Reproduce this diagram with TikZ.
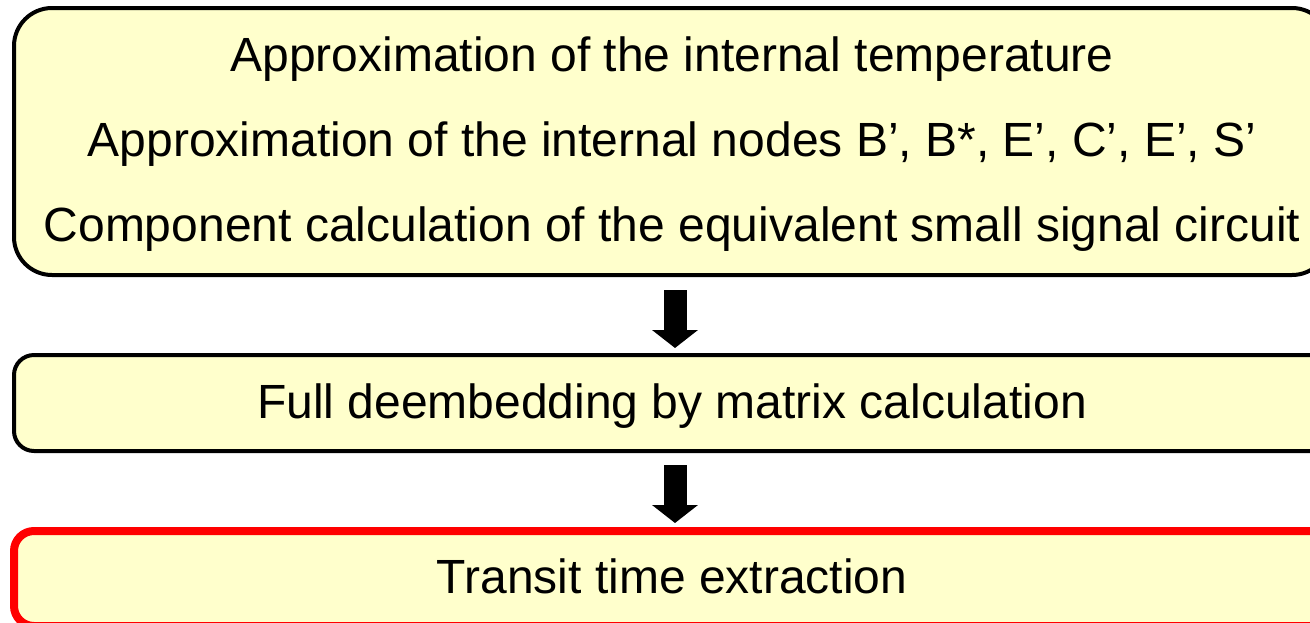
\documentclass[tikz,border=0pt]{standalone}
\usepackage{fontspec}
\setmainfont{Liberation Sans}
\usepackage{xcolor}
\usetikzlibrary{arrows.meta,positioning}
\definecolor{paleyellow}{HTML}{FFFFCC}
\definecolor{alertred}{HTML}{FF0000}
\tikzset{
    every picture/.style={line join=round},
    stagebox/.style={draw=black,fill=paleyellow,line width=2pt,rounded corners=10pt,
      minimum width=658pt,minimum height=48pt,inner sep=0pt,outer sep=0pt,
      font=\fontsize{24}{42.5}\selectfont,align=center},
    oneline/.style={text height=21pt,text depth=6pt},
    resultbox/.style={stagebox,draw=alertred,line width=4pt},
    blockarrow/.style={-{Triangle[length=9pt,width=22.5pt]},draw=black,fill=black,
      line width=11.5pt,line cap=butt}
}
\begin{document}
\begin{tikzpicture}[x=0.5pt,y=-0.5pt]
  \useasboundingbox (0,0) rectangle (1310,622);
  \node[stagebox,rounded corners=19pt,minimum height=133.5pt] (approx) at (672,141.5) {
    \rule{0pt}{21pt}Approximation of the internal temperature\\
    Approximation of the internal nodes B’, B*, E’, C’, E’, S’\\
    Component calculation of the equivalent small signal circuit\rule[-6pt]{0pt}{6pt}
  };
  \node[stagebox,oneline] (deembed) at (672,403) {Full deembedding by matrix calculation};
  \node[resultbox,oneline,minimum height=47.5pt] (transit) at (672,578.5) {Transit time extraction};
  \draw[blockarrow,shorten <=7.5pt,shorten >=3.5pt]
    ([xshift=1.5pt]approx.south) -- ([xshift=1.5pt]deembed.north);
  \draw[blockarrow,shorten <=7pt,shorten >=4pt]
    ([xshift=1.5pt]deembed.south) -- ([xshift=1.5pt]transit.north);
\end{tikzpicture}
\end{document}
